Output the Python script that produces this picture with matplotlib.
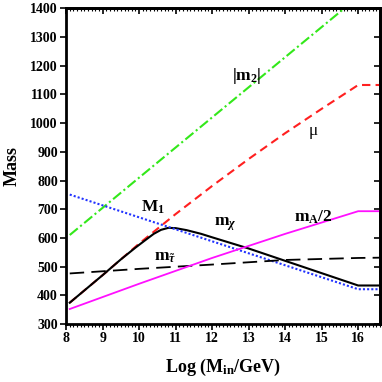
import matplotlib
matplotlib.use("Agg")
import matplotlib.pyplot as plt
from matplotlib.ticker import MultipleLocator

plt.rcParams['font.family'] = ['Liberation Serif', 'DejaVu Serif']
plt.rcParams['mathtext.fontset'] = 'custom'
plt.rcParams['mathtext.rm'] = 'Liberation Serif:bold'
plt.rcParams['mathtext.it'] = 'Liberation Serif:italic:bold'
plt.rcParams['mathtext.bf'] = 'Liberation Serif:bold'

# Log(M_in/GeV) grid and the mass curves
log_m2 = [8.1, 10, 12, 14, 16, 16.6]
m2 = [610, 810, 1020, 1230, 1440, 1440]

log_mu = [8.1, 9, 10, 11, 12, 13, 14, 15, 16, 16.6]
mu = [374, 470, 580, 683, 781, 875, 965, 1050, 1133, 1133]

log_M1 = [8.1, 16, 16.6]
M1 = [751, 421, 421]

log_mchi = [8.1, 9, 9.5, 9.9, 10.2, 10.4, 10.6, 10.8, 11.0, 11.3, 11.7, 12, 13, 14, 15, 16, 16.6]
mchi = [374, 470, 525, 566, 595, 614, 628, 635, 634, 627, 614, 602, 563, 520, 477, 434, 434]

log_stau = [8.1, 10, 12, 14, 16, 16.6]
mstau = [476, 492, 507, 523, 530, 531]

log_mA = [8.1, 10, 12, 14, 16, 16.6]
mA_half = [352, 440, 530, 614, 693, 693]

fig = plt.figure(figsize=(3.82, 3.82), dpi=100)
ax = fig.add_axes([0.173, 0.152, 0.822, 0.826])

ax.plot(log_m2, m2, color='#33e81a', lw=1.5, linestyle=(0, (5, 1.5, 1, 1.5)))
ax.plot(log_mu, mu, color='#ff2020', lw=1.5, linestyle=(0, (4, 2.5)))
ax.plot(log_mchi, mchi, color='black', lw=1.5)
ax.plot(log_M1, M1, color='#2233ff', lw=1.5, linestyle=(0, (1, 1)))
ax.plot(log_stau, mstau, color='black', lw=1.3, linestyle=(0, (8, 4)))
ax.plot(log_mA, mA_half, color='#ff10ff', lw=1.3)

fs = 12.5
ax.text(12.55, 1150, r'$|\mathbf{m}_{\mathbf{2}}|$', fontsize=fs)
ax.text(14.65, 960, 'μ', fontsize=fs)
ax.text(10.05, 690, r'$\mathbf{M}_{\mathbf{1}}$', fontsize=fs)
ax.text(12.05, 642, r'$\mathbf{m}_{\chi}$', fontsize=fs)
ax.text(14.25, 656, r'$\mathbf{m}_{\mathbf{A}}\mathbf{/2}$', fontsize=fs)
ax.text(10.4, 520, r'$\mathbf{m}_{\tilde{\tau}}$', fontsize=fs)

ax.set_xlim(8, 16.6)
ax.set_ylim(300, 1400)
ax.xaxis.set_major_locator(MultipleLocator(1))
ax.xaxis.set_minor_locator(MultipleLocator(0.1))
ax.yaxis.set_major_locator(MultipleLocator(100))
ax.tick_params(which='major', direction='out', length=4, width=1.2,
               labelsize=10, top=False, right=False, pad=2)
ax.tick_params(which='minor', direction='out', length=2, width=0.8,
               top=False, right=False)
ax.tick_params(axis='y', which='minor', left=False)
for t in ax.get_xticklabels() + ax.get_yticklabels():
    t.set_fontweight('bold')

top = ax.secondary_xaxis('top')
top.xaxis.set_major_locator(MultipleLocator(1))
top.xaxis.set_minor_locator(MultipleLocator(0.1))
top.tick_params(which='major', direction='in', length=4, width=1.2, labeltop=False)
top.tick_params(which='minor', direction='in', length=2, width=0.8)
right = ax.secondary_yaxis('right')
right.yaxis.set_major_locator(MultipleLocator(100))
right.tick_params(which='major', direction='in', length=4, width=1.2, labelright=False)

for s in ax.spines.values():
    s.set_linewidth(2)
top.spines['top'].set_linewidth(2)
right.spines['right'].set_linewidth(2)

ax.set_xlabel(r'Log (M$_{\mathbf{in}}$/GeV)', fontsize=13, fontweight='bold', labelpad=8)
ax.set_ylabel('Mass', fontsize=13, fontweight='bold', labelpad=7)

fig.savefig('out.png', dpi=100)
